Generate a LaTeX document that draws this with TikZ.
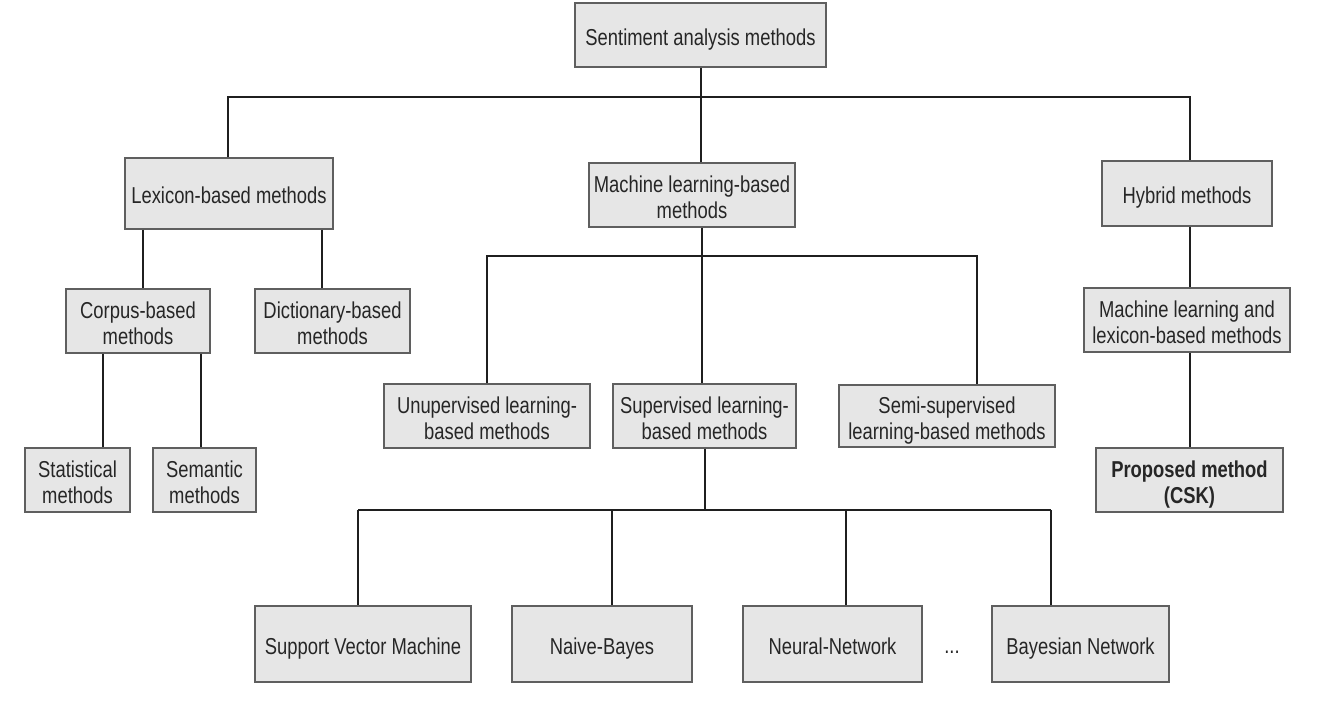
\documentclass[tikz,border=0pt]{standalone}
\usepackage{fontspec}
\setmainfont[FakeStretch=0.80]{Liberation Sans}
\newcommand\bst{\rule{0pt}{25.5pt}}
\newcommand\est{\rule[-5pt]{0pt}{5pt}}
\begin{document}
\begin{tikzpicture}[x=1pt,y=-1pt,
  box/.style={draw=boxborder, fill=boxfill, line width=1.6pt, rectangle, inner sep=0pt,
    align=center, text=black!85, font=\fontsize{23}{26}\selectfont},
  conn/.style={draw=black!88, line width=1.6pt}]
\definecolor{boxfill}{HTML}{E6E6E6}
\definecolor{boxborder}{HTML}{5F5F5F}
\useasboundingbox[fill=white] (0,0) rectangle (1324,712);
% level 0
\node[box, minimum width=251pt, minimum height=64pt] (root) at (700.5,35) {\bst Sentiment analysis methods\est};
% level 1
\node[box, minimum width=208pt, minimum height=71pt] (lex) at (229,193.5) {\bst Lexicon-based methods\est};
\node[box, minimum width=206pt, minimum height=64pt] (ml) at (692,195) {\bst Machine learning-based\\methods\est};
\node[box, minimum width=170pt, minimum height=65pt] (hyb) at (1187,193.5) {\bst Hybrid methods\est};
% level 2
\node[box, minimum width=144pt, minimum height=64pt] (corpus) at (138,321) {\bst Corpus-based\\methods\est};
\node[box, minimum width=155pt, minimum height=64pt] (dict) at (332.5,321) {\bst Dictionary-based\\methods\est};
\node[box, minimum width=206pt, minimum height=64pt] (mllex) at (1187,320) {\bst Machine learning and\\lexicon-based methods\est};
\node[box, minimum width=206pt, minimum height=64pt] (unsup) at (487,416) {\bst Unupervised learning-\\based methods\est};
\node[box, minimum width=183pt, minimum height=64pt] (sup) at (704.5,416) {\bst Supervised learning-\\based methods\est};
\node[box, minimum width=216pt, minimum height=62pt] (semi) at (947,416) {\bst Semi-supervised\\learning-based methods\est};
% level 3
\node[box, minimum width=105pt, minimum height=64pt] (stat) at (77.5,480) {\bst Statistical\\methods\est};
\node[box, minimum width=103pt, minimum height=64pt] (sem) at (204.5,480) {\bst Semantic\\methods\est};
\node[box, minimum width=187pt, minimum height=64pt, font=\fontsize{23}{26}\selectfont\bfseries] (prop) at (1189.5,480) {\bst Proposed method\\(CSK)\est};
% level 4
\node[box, minimum width=216pt, minimum height=76pt] (svm) at (363,644) {\bst Support Vector Machine\est};
\node[box, minimum width=180pt, minimum height=76pt] (nb) at (602,644) {\bst Naive-Bayes\est};
\node[box, minimum width=179pt, minimum height=76pt] (nn) at (832.5,644) {\bst Neural-Network\est};
\node[box, minimum width=177pt, minimum height=76pt] (bn) at (1080.5,644) {\bst Bayesian Network\est};
\node[font=\fontsize{23}{26}\selectfont, text=black!85, anchor=base] (dots) at (952,653) {...};
% junctions
\coordinate (tL) at (228,97);
\coordinate (tM) at (701,97);
\coordinate (tR) at (1190,97);
\coordinate (mJ) at (702,256);
\coordinate (mL) at (487,256);
\coordinate (mR) at (977,256);
\coordinate (sJ) at (705,510);
\coordinate (s1) at (358,510);
\coordinate (s2) at (612,510);
\coordinate (s3) at (846,510);
\coordinate (s4) at (1051,510);
% connectors top
\draw[conn] (root.south -| tM) -- (tM);
\draw[conn] (lex.north -| tL) -- (tL) -- (tR) -- (hyb.north -| tR);
\draw[conn] (tM) -- (ml.north -| tM);
% lexicon branch
\draw[conn] (lex.south -| 143,0) -- (corpus.north -| 143,0);
\draw[conn] (lex.south -| 322,0) -- (dict.north -| 322,0);
\draw[conn] (corpus.south -| 103,0) -- (stat.north -| 103,0);
\draw[conn] (corpus.south -| 201,0) -- (sem.north -| 201,0);
% ML branch
\draw[conn] (ml.south -| mJ) -- (mJ);
\draw[conn] (unsup.north -| mL) -- (mL) -- (mR) -- (semi.north -| mR);
\draw[conn] (mJ) -- (sup.north -| mJ);
% supervised branch
\draw[conn] (sup.south -| sJ) -- (sJ);
\draw[conn] (s1) -- (s4);
\draw[conn] (s1) -- (svm.north -| s1);
\draw[conn] (s2) -- (nb.north -| s2);
\draw[conn] (s3) -- (nn.north -| s3);
\draw[conn] (s4) -- (bn.north -| s4);
% hybrid branch
\draw[conn] (hyb.south -| tR) -- (mllex.north -| tR);
\draw[conn] (mllex.south -| tR) -- (prop.north -| tR);
\end{tikzpicture}
\end{document}
